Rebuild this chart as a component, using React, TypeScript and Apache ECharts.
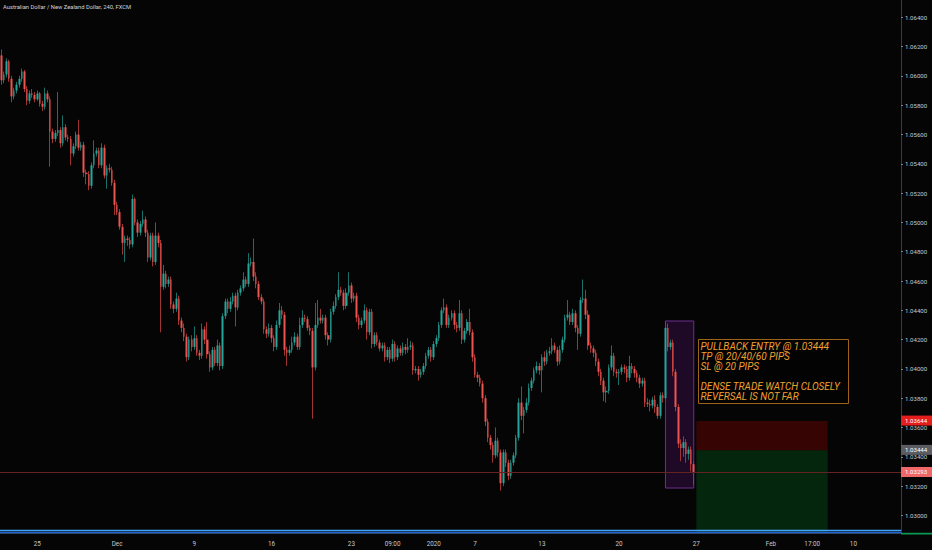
import { useEffect, useRef } from 'react';
import * as echarts from 'echarts';

// 4h candles, [open, close, low, high]
const candles: number[][] = [
  [1.0614, 1.0597, 1.0594, 1.0618], [1.0597, 1.0601, 1.0595, 1.0603], [1.0601, 1.0610, 1.0599, 1.0612], [1.0610, 1.0598, 1.0596, 1.0611],
  [1.0598, 1.0586, 1.0582, 1.0600], [1.0586, 1.0590, 1.0584, 1.0592], [1.0590, 1.0594, 1.0588, 1.0596], [1.0594, 1.0598, 1.0592, 1.0600],
  [1.0598, 1.0603, 1.0596, 1.0605], [1.0603, 1.0591, 1.0589, 1.0604], [1.0591, 1.0583, 1.0580, 1.0593], [1.0583, 1.0588, 1.0581, 1.0590],
  [1.0588, 1.0587, 1.0585, 1.0591], [1.0587, 1.0584, 1.0582, 1.0589], [1.0584, 1.0588, 1.0583, 1.0590], [1.0588, 1.0581, 1.0579, 1.0589],
  [1.0581, 1.0579, 1.0576, 1.0583], [1.0579, 1.0588, 1.0577, 1.0592], [1.0588, 1.0584, 1.0582, 1.0590], [1.0584, 1.0562, 1.0538, 1.0586],
  [1.0562, 1.0557, 1.0554, 1.0564], [1.0557, 1.0561, 1.0555, 1.0563], [1.0561, 1.0563, 1.0559, 1.0589], [1.0563, 1.0554, 1.0551, 1.0565],
  [1.0554, 1.0565, 1.0552, 1.0573], [1.0565, 1.0558, 1.0556, 1.0567], [1.0558, 1.0557, 1.0555, 1.0560], [1.0557, 1.0547, 1.0539, 1.0559],
  [1.0547, 1.0552, 1.0545, 1.0554], [1.0552, 1.0560, 1.0550, 1.0562], [1.0560, 1.0551, 1.0549, 1.0570], [1.0551, 1.0553, 1.0549, 1.0555],
  [1.0553, 1.0534, 1.0531, 1.0555], [1.0534, 1.0533, 1.0526, 1.0536], [1.0533, 1.0525, 1.0522, 1.0535], [1.0525, 1.0539, 1.0523, 1.0541],
  [1.0539, 1.0547, 1.0537, 1.0556], [1.0547, 1.0549, 1.0545, 1.0551], [1.0549, 1.0539, 1.0537, 1.0551], [1.0539, 1.0551, 1.0537, 1.0554],
  [1.0551, 1.0532, 1.0530, 1.0553], [1.0532, 1.0537, 1.0523, 1.0539], [1.0537, 1.0536, 1.0534, 1.0540], [1.0536, 1.0527, 1.0525, 1.0538],
  [1.0527, 1.0512, 1.0505, 1.0529], [1.0512, 1.0507, 1.0505, 1.0514], [1.0507, 1.0497, 1.0495, 1.0509], [1.0497, 1.0486, 1.0478, 1.0499],
  [1.0486, 1.0489, 1.0473, 1.0491], [1.0489, 1.0488, 1.0484, 1.0491], [1.0488, 1.0485, 1.0482, 1.0490], [1.0485, 1.0516, 1.0483, 1.0519],
  [1.0516, 1.0500, 1.0498, 1.0517], [1.0500, 1.0493, 1.0490, 1.0502], [1.0493, 1.0499, 1.0491, 1.0501], [1.0499, 1.0502, 1.0497, 1.0508],
  [1.0502, 1.0493, 1.0490, 1.0504], [1.0493, 1.0476, 1.0473, 1.0495], [1.0476, 1.0491, 1.0474, 1.0493], [1.0491, 1.0473, 1.0470, 1.0493],
  [1.0473, 1.0491, 1.0471, 1.0500], [1.0491, 1.0486, 1.0483, 1.0493], [1.0486, 1.0456, 1.0425, 1.0488], [1.0456, 1.0465, 1.0454, 1.0471],
  [1.0465, 1.0458, 1.0455, 1.0467], [1.0458, 1.0461, 1.0456, 1.0463], [1.0461, 1.0444, 1.0441, 1.0463], [1.0444, 1.0441, 1.0438, 1.0446],
  [1.0441, 1.0448, 1.0439, 1.0452], [1.0448, 1.0433, 1.0430, 1.0450], [1.0433, 1.0428, 1.0425, 1.0435], [1.0428, 1.0422, 1.0419, 1.0431],
  [1.0422, 1.0408, 1.0405, 1.0424], [1.0408, 1.0420, 1.0406, 1.0422], [1.0420, 1.0415, 1.0412, 1.0423], [1.0415, 1.0421, 1.0413, 1.0429],
  [1.0421, 1.0411, 1.0409, 1.0423], [1.0411, 1.0409, 1.0406, 1.0413], [1.0409, 1.0427, 1.0407, 1.0431], [1.0427, 1.0420, 1.0417, 1.0429],
  [1.0420, 1.0410, 1.0407, 1.0432], [1.0410, 1.0401, 1.0398, 1.0412], [1.0401, 1.0413, 1.0399, 1.0415], [1.0413, 1.0404, 1.0402, 1.0415],
  [1.0404, 1.0416, 1.0402, 1.0420], [1.0416, 1.0402, 1.0399, 1.0418], [1.0402, 1.0436, 1.0400, 1.0438], [1.0436, 1.0446, 1.0434, 1.0448],
  [1.0446, 1.0441, 1.0438, 1.0448], [1.0441, 1.0446, 1.0439, 1.0449], [1.0446, 1.0450, 1.0444, 1.0452], [1.0450, 1.0442, 1.0429, 1.0452],
  [1.0442, 1.0452, 1.0440, 1.0454], [1.0452, 1.0455, 1.0450, 1.0457], [1.0455, 1.0461, 1.0453, 1.0466], [1.0461, 1.0458, 1.0456, 1.0463],
  [1.0458, 1.0472, 1.0456, 1.0479], [1.0472, 1.0473, 1.0470, 1.0476], [1.0473, 1.0463, 1.0460, 1.0489], [1.0463, 1.0458, 1.0455, 1.0466],
  [1.0458, 1.0449, 1.0447, 1.0460], [1.0449, 1.0446, 1.0444, 1.0451], [1.0446, 1.0427, 1.0424, 1.0448], [1.0427, 1.0424, 1.0421, 1.0429],
  [1.0424, 1.0428, 1.0422, 1.0431], [1.0428, 1.0421, 1.0418, 1.0430], [1.0421, 1.0415, 1.0412, 1.0423], [1.0415, 1.0430, 1.0413, 1.0433],
  [1.0430, 1.0440, 1.0428, 1.0445], [1.0440, 1.0437, 1.0434, 1.0443], [1.0437, 1.0413, 1.0409, 1.0439], [1.0413, 1.0411, 1.0402, 1.0415],
  [1.0411, 1.0413, 1.0409, 1.0416], [1.0413, 1.0418, 1.0411, 1.0422], [1.0418, 1.0422, 1.0416, 1.0425], [1.0422, 1.0415, 1.0413, 1.0424],
  [1.0415, 1.0430, 1.0413, 1.0435], [1.0430, 1.0435, 1.0428, 1.0440], [1.0435, 1.0434, 1.0432, 1.0437], [1.0434, 1.0428, 1.0426, 1.0436],
  [1.0428, 1.0426, 1.0423, 1.0430], [1.0426, 1.0401, 1.0366, 1.0428], [1.0401, 1.0430, 1.0399, 1.0445], [1.0430, 1.0435, 1.0428, 1.0447],
  [1.0435, 1.0433, 1.0431, 1.0441], [1.0433, 1.0435, 1.0431, 1.0437], [1.0435, 1.0423, 1.0420, 1.0437], [1.0423, 1.0420, 1.0416, 1.0425],
  [1.0420, 1.0439, 1.0418, 1.0441], [1.0439, 1.0443, 1.0437, 1.0446], [1.0443, 1.0449, 1.0441, 1.0451], [1.0449, 1.0454, 1.0447, 1.0466],
  [1.0454, 1.0452, 1.0450, 1.0456], [1.0452, 1.0443, 1.0440, 1.0454], [1.0443, 1.0452, 1.0441, 1.0455], [1.0452, 1.0457, 1.0450, 1.0466],
  [1.0457, 1.0448, 1.0445, 1.0459], [1.0448, 1.0450, 1.0446, 1.0452], [1.0450, 1.0435, 1.0432, 1.0452], [1.0435, 1.0430, 1.0427, 1.0437],
  [1.0430, 1.0433, 1.0428, 1.0435], [1.0433, 1.0440, 1.0431, 1.0444], [1.0440, 1.0425, 1.0420, 1.0442], [1.0425, 1.0439, 1.0423, 1.0441],
  [1.0439, 1.0417, 1.0414, 1.0441], [1.0417, 1.0423, 1.0415, 1.0425], [1.0423, 1.0418, 1.0416, 1.0425], [1.0418, 1.0414, 1.0412, 1.0420],
  [1.0414, 1.0416, 1.0412, 1.0418], [1.0416, 1.0408, 1.0405, 1.0418], [1.0408, 1.0413, 1.0406, 1.0415], [1.0413, 1.0407, 1.0404, 1.0415],
  [1.0407, 1.0417, 1.0405, 1.0420], [1.0417, 1.0408, 1.0405, 1.0419], [1.0408, 1.0414, 1.0406, 1.0416], [1.0414, 1.0411, 1.0409, 1.0416],
  [1.0411, 1.0415, 1.0409, 1.0418], [1.0415, 1.0413, 1.0410, 1.0417], [1.0413, 1.0415, 1.0411, 1.0421], [1.0415, 1.0416, 1.0413, 1.0419],
  [1.0416, 1.0399, 1.0396, 1.0418], [1.0399, 1.0400, 1.0397, 1.0402], [1.0400, 1.0396, 1.0392, 1.0402], [1.0396, 1.0398, 1.0394, 1.0400],
  [1.0398, 1.0402, 1.0396, 1.0404], [1.0402, 1.0409, 1.0400, 1.0411], [1.0409, 1.0413, 1.0407, 1.0415], [1.0413, 1.0408, 1.0405, 1.0415],
  [1.0408, 1.0417, 1.0406, 1.0419], [1.0417, 1.0421, 1.0415, 1.0423], [1.0421, 1.0430, 1.0419, 1.0432], [1.0430, 1.0440, 1.0428, 1.0442],
  [1.0440, 1.0442, 1.0438, 1.0448], [1.0442, 1.0430, 1.0428, 1.0444], [1.0430, 1.0435, 1.0428, 1.0437], [1.0435, 1.0438, 1.0433, 1.0440],
  [1.0438, 1.0430, 1.0427, 1.0440], [1.0430, 1.0428, 1.0425, 1.0432], [1.0428, 1.0438, 1.0426, 1.0447], [1.0438, 1.0420, 1.0417, 1.0440],
  [1.0420, 1.0426, 1.0418, 1.0428], [1.0426, 1.0432, 1.0424, 1.0434], [1.0432, 1.0425, 1.0423, 1.0441], [1.0425, 1.0408, 1.0405, 1.0427],
  [1.0408, 1.0396, 1.0394, 1.0410], [1.0396, 1.0394, 1.0391, 1.0398], [1.0394, 1.0390, 1.0388, 1.0396], [1.0390, 1.0380, 1.0377, 1.0392],
  [1.0380, 1.0364, 1.0361, 1.0382], [1.0364, 1.0353, 1.0350, 1.0366], [1.0353, 1.0348, 1.0345, 1.0355], [1.0348, 1.0341, 1.0336, 1.0350],
  [1.0341, 1.0351, 1.0339, 1.0360], [1.0351, 1.0343, 1.0340, 1.0353], [1.0343, 1.0322, 1.0317, 1.0345], [1.0322, 1.0343, 1.0320, 1.0345],
  [1.0343, 1.0336, 1.0333, 1.0345], [1.0336, 1.0327, 1.0324, 1.0338], [1.0327, 1.0336, 1.0325, 1.0338], [1.0336, 1.0341, 1.0334, 1.0343],
  [1.0341, 1.0353, 1.0339, 1.0355], [1.0353, 1.0377, 1.0351, 1.0380], [1.0377, 1.0368, 1.0365, 1.0388], [1.0368, 1.0372, 1.0356, 1.0374],
  [1.0372, 1.0377, 1.0370, 1.0380], [1.0377, 1.0387, 1.0375, 1.0390], [1.0387, 1.0392, 1.0385, 1.0394], [1.0392, 1.0399, 1.0390, 1.0401],
  [1.0399, 1.0402, 1.0397, 1.0405], [1.0402, 1.0399, 1.0396, 1.0404], [1.0399, 1.0408, 1.0384, 1.0410], [1.0408, 1.0405, 1.0402, 1.0412],
  [1.0405, 1.0411, 1.0403, 1.0413], [1.0411, 1.0412, 1.0409, 1.0415], [1.0412, 1.0416, 1.0410, 1.0421], [1.0416, 1.0413, 1.0411, 1.0418],
  [1.0413, 1.0405, 1.0402, 1.0415], [1.0405, 1.0413, 1.0403, 1.0416], [1.0413, 1.0420, 1.0411, 1.0422], [1.0420, 1.0435, 1.0418, 1.0437],
  [1.0435, 1.0437, 1.0433, 1.0447], [1.0437, 1.0432, 1.0430, 1.0439], [1.0432, 1.0438, 1.0430, 1.0441], [1.0438, 1.0428, 1.0425, 1.0440],
  [1.0428, 1.0424, 1.0413, 1.0430], [1.0424, 1.0447, 1.0422, 1.0449], [1.0447, 1.0448, 1.0445, 1.0461], [1.0448, 1.0437, 1.0434, 1.0454],
  [1.0437, 1.0416, 1.0413, 1.0440], [1.0416, 1.0414, 1.0411, 1.0418], [1.0414, 1.0411, 1.0408, 1.0416], [1.0411, 1.0405, 1.0402, 1.0413],
  [1.0405, 1.0398, 1.0395, 1.0407], [1.0398, 1.0392, 1.0389, 1.0400], [1.0392, 1.0384, 1.0378, 1.0394], [1.0384, 1.0385, 1.0377, 1.0388],
  [1.0385, 1.0401, 1.0383, 1.0403], [1.0401, 1.0409, 1.0399, 1.0416], [1.0409, 1.0398, 1.0395, 1.0411], [1.0398, 1.0397, 1.0394, 1.0400],
  [1.0397, 1.0398, 1.0389, 1.0400], [1.0398, 1.0401, 1.0396, 1.0403], [1.0401, 1.0400, 1.0397, 1.0403], [1.0400, 1.0394, 1.0391, 1.0402],
  [1.0394, 1.0402, 1.0392, 1.0409], [1.0402, 1.0400, 1.0397, 1.0404], [1.0400, 1.0397, 1.0394, 1.0402], [1.0397, 1.0394, 1.0391, 1.0399],
  [1.0394, 1.0390, 1.0387, 1.0396], [1.0390, 1.0392, 1.0388, 1.0394], [1.0392, 1.0377, 1.0374, 1.0394], [1.0377, 1.0376, 1.0374, 1.0380],
  [1.0376, 1.0375, 1.0371, 1.0379], [1.0375, 1.0379, 1.0373, 1.0381], [1.0379, 1.0374, 1.0370, 1.0382], [1.0374, 1.0368, 1.0366, 1.0376],
  [1.0368, 1.0382, 1.0366, 1.0384], [1.0382, 1.0380, 1.0377, 1.0384], [1.0380, 1.0428, 1.0378, 1.0432], [1.0428, 1.0415, 1.0412, 1.0431],
  [1.0415, 1.0418, 1.0413, 1.0420], [1.0418, 1.0398, 1.0395, 1.0420], [1.0398, 1.0374, 1.0371, 1.0400], [1.0374, 1.0349, 1.0346, 1.0376],
  [1.0349, 1.0346, 1.0337, 1.0352], [1.0346, 1.0350, 1.0340, 1.0354], [1.0350, 1.0342, 1.0336, 1.0352], [1.0342, 1.0345, 1.0338, 1.0347],
  [1.0345, 1.0335, 1.0330, 1.0347], [1.0335, 1.03293, 1.0321, 1.0337],
];

// empty 4h slots to the right of the last candle
const futureSlots = 80;

// time axis labels: [slot index, text]
const timeTicks: [number, string][] = [
  [14, '25'], [45, 'Dec'], [75, '9'], [105, '16'], [136, '23'], [152, '09:00'], [168, '2020'],
  [184, '7'], [210, '13'], [240, '20'], [270, '27'], [299, 'Feb'], [315, '17:00'], [331, '10'],
];

const priceTicks = [
  1.030, 1.032, 1.034, 1.036, 1.038, 1.040, 1.042, 1.044, 1.046,
  1.048, 1.050, 1.052, 1.054, 1.056, 1.058, 1.060, 1.062, 1.064,
];

const priceMin = 1.0288;
const priceMax = 1.06518;

const lastPrice = 1.03293;
const entryPrice = 1.03444;
const stopPrice = 1.03644;
const targetPrice = 1.02844;
const blueLevels = [1.02898, 1.02888];

// highlighted area: slots and prices
const boxSlots = [258, 269];
const boxPrices = [1.04327, 1.03187];
const tradeSlots = [270, 321];

const noteLines = [
  'PULLBACK ENTRY @ 1.03444',
  'TP @ 20/40/60 PIPS',
  'SL @ 20 PIPS',
  '',
  'DENSE TRADE WATCH CLOSELY',
  'REVERSAL IS NOT FAR',
];

const title = 'Australian Dollar / New Zealand Dollar, 240, FXCM';

const UP = '#26a69a';
const DOWN = '#ef5350';
const GRID_RIGHT = 31;
const GRID_BOTTOM = 17;
const FONT = 'Roboto';

export default function App() {
  const chartRef = useRef<HTMLDivElement>(null);

  useEffect(() => {
    if (!chartRef.current) return;
    const chart = echarts.init(chartRef.current, null, { renderer: 'svg' });

    const slots = Array.from({ length: candles.length + futureSlots }, (_, i) => String(i));
    const tickAt = new Map<number, string>(timeTicks);
    const bodies = candles.map(([o, c]) => [o, c, Math.min(o, c), Math.max(o, c)]);

    chart.setOption({
      animation: false,
      backgroundColor: '#050505',
      textStyle: { fontFamily: FONT },
      grid: { left: 0, right: GRID_RIGHT, top: 0, bottom: GRID_BOTTOM },
      xAxis: {
        type: 'category',
        data: slots,
        axisLine: { lineStyle: { color: '#3a3c42' } },
        axisTick: {
          alignWithLabel: true,
          interval: (i: number) => tickAt.has(i),
          length: 2.5,
          lineStyle: { color: '#7d8088' },
        },
        axisLabel: {
          interval: (i: number) => tickAt.has(i),
          formatter: (_v: string, i: number) => tickAt.get(i) ?? '',
          color: '#c6c8ce',
          fontSize: 6.3,
          margin: 8,
        },
        splitLine: { show: false },
      },
      yAxis: {
        type: 'value',
        position: 'right',
        min: priceMin,
        max: priceMax,
        axisLine: { show: true, lineStyle: { color: '#3a3c42' } },
        axisTick: { show: true, length: 2, customValues: priceTicks, lineStyle: { color: '#7d8088' } },
        axisLabel: {
          customValues: priceTicks,
          formatter: (v: number) => v.toFixed(5),
          color: '#c6c8ce',
          fontSize: 6.1,
          margin: 4,
        },
        splitLine: { show: false },
      },
      series: [
        {
          name: 'wicks',
          type: 'candlestick',
          data: candles,
          barWidth: 1,
          itemStyle: {
            color: 'transparent',
            color0: 'transparent',
            borderColor: '#1a6f68',
            borderColor0: '#9e3532',
            borderWidth: 1,
          },
          markArea: {
            silent: true,
            label: { show: false },
            data: [
              [
                { xAxis: boxSlots[0], yAxis: boxPrices[0], itemStyle: { color: 'rgba(123,31,162,0.22)', borderColor: '#6d2f8e', borderWidth: 1 } },
                { xAxis: boxSlots[1], yAxis: boxPrices[1] },
              ],
              [
                { xAxis: tradeSlots[0], yAxis: stopPrice, itemStyle: { color: 'rgba(255,0,0,0.2)' } },
                { xAxis: tradeSlots[1], yAxis: entryPrice },
              ],
              [
                { xAxis: tradeSlots[0], yAxis: entryPrice, itemStyle: { color: 'rgba(0,230,60,0.15)' } },
                { xAxis: tradeSlots[1], yAxis: targetPrice },
              ],
            ],
          },
          markLine: {
            silent: true,
            precision: 5,
            symbol: ['none', 'none'],
            label: { show: false },
            data: [
              { yAxis: lastPrice, lineStyle: { color: '#642222', width: 1, type: 'solid' } },
              { yAxis: blueLevels[0], lineStyle: { color: '#42a5f5', width: 1.4, type: 'solid' } },
              { yAxis: blueLevels[1], lineStyle: { color: '#1e63d0', width: 1.4, type: 'solid' } },
            ],
          },
        },
        {
          name: 'bodies',
          type: 'candlestick',
          data: bodies,
          barWidth: '80%',
          itemStyle: { color: UP, color0: DOWN, borderColor: UP, borderColor0: DOWN, borderWidth: 0 },
        },
      ],
    });

    const right = chart.getWidth() - GRID_RIGHT;
    const bottom = chart.getHeight() - GRID_BOTTOM;
    const py = (p: number) => chart.convertToPixel({ yAxisIndex: 0 }, p) as number;

    const tag = (price: number, bg: string) => [
      { type: 'rect', z: 100, shape: { x: right, y: py(price) - 5.5, width: GRID_RIGHT, height: 10 }, style: { fill: bg } },
      {
        type: 'text', z: 101, x: right + 4, y: py(price) - 0.5,
        style: { text: price.toFixed(5), fill: '#ffffff', fontSize: 6.1, fontFamily: FONT, verticalAlign: 'middle' },
      },
    ];

    const tpTop = py(targetPrice) - 5.5;

    chart.setOption({
      graphic: [
        {
          type: 'text', left: 3, top: 4,
          style: { text: title, fill: '#d1d4dc', fontSize: 5.8, fontFamily: FONT },
        },
        {
          type: 'group', left: 698, top: 339,
          children: [
            { type: 'rect', shape: { x: 0, y: 0, width: 150, height: 64 }, style: { fill: 'rgba(0,0,0,0.4)', stroke: '#9c6418', lineWidth: 1 } },
            {
              type: 'text', x: 2, y: 1.5,
              style: {
                text: noteLines.join('\n'), fill: '#f0a030', fontSize: 10, fontStyle: 'italic',
                fontFamily: FONT, lineHeight: 10,
              },
            },
          ],
        },
        ...tag(stopPrice, '#e51d1d'),
        ...tag(entryPrice, '#5b5d63'),
        ...tag(lastPrice, '#ef6767'),
        {
          type: 'rect', z: 100,
          shape: { x: right, y: tpTop, width: GRID_RIGHT, height: Math.max(0, bottom + 1.5 - tpTop) },
          style: { fill: '#0a9a52' },
        },
      ],
    });

    const handleResize = () => chart.resize();
    window.addEventListener('resize', handleResize);

    return () => {
      window.removeEventListener('resize', handleResize);
      chart.dispose();
    };
  }, []);

  return <div ref={chartRef} style={{ position: 'fixed', left: 0, top: 0, width: 932, height: 550 }} />;
}
